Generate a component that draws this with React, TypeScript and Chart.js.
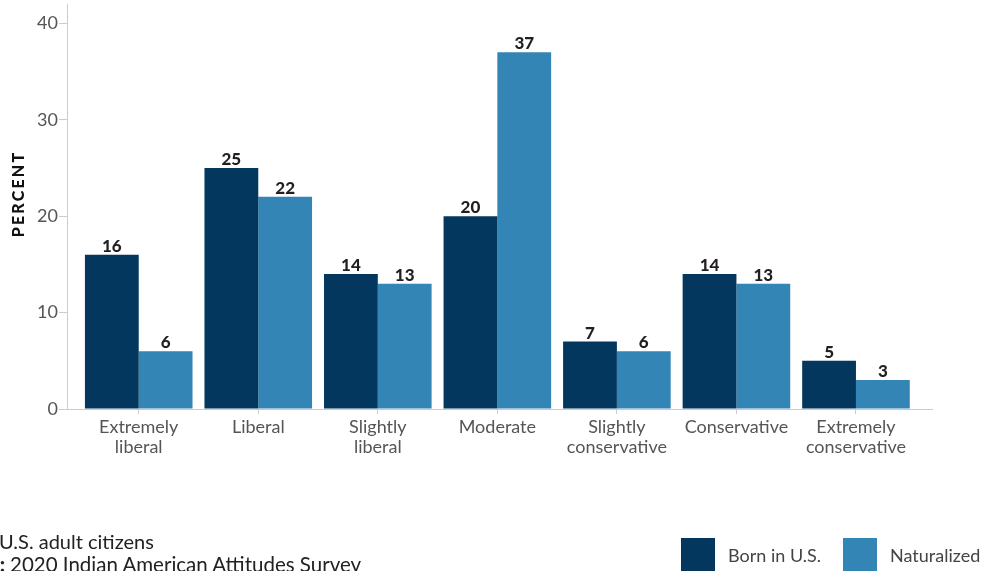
import React, { useEffect, useRef } from "react";
import { Chart, registerables } from "chart.js";

Chart.register(...registerables);

const CATEGORIES: string[][] = [
  ["Extremely", "liberal"],
  ["Liberal"],
  ["Slightly", "liberal"],
  ["Moderate"],
  ["Slightly", "conservative"],
  ["Conservative"],
  ["Extremely", "conservative"],
];
const BORN_IN_US = [16, 25, 14, 20, 7, 14, 5];
const NATURALIZED = [6, 22, 13, 37, 6, 13, 3];
const Y_TICKS = [0, 10, 20, 30, 40];
const SERIES_NAMES = ["Born in U.S.", "Naturalized"];

const DARK = "#03375e";
const LIGHT = "#3285b4";
const AXIS = "#cccccc";
const FONT = "Lato, 'Open Sans', sans-serif";

const dataLabels = {
  id: "dataLabels",
  afterDatasetsDraw(chart: any) {
    const ctx = chart.ctx;
    ctx.save();
    ctx.font = `900 17px ${FONT}`;
    ctx.fillStyle = "#231f20";
    ctx.textAlign = "center";
    ctx.textBaseline = "alphabetic";
    chart.data.datasets.forEach((ds: any, di: number) => {
      const meta = chart.getDatasetMeta(di);
      meta.data.forEach((el: any, i: number) => {
        ctx.fillText(String(ds.data[i].y), el.x, el.y - 3);
      });
    });
    ctx.restore();
  },
};

const yTitle = {
  id: "yTitle",
  afterDraw(chart: any) {
    const ctx = chart.ctx;
    ctx.save();
    ctx.translate(19, 194);
    ctx.rotate(-Math.PI / 2);
    ctx.font = `900 16px ${FONT}`;
    (ctx as any).letterSpacing = "2.2px";
    ctx.fillStyle = "#111111";
    ctx.textAlign = "center";
    ctx.textBaseline = "middle";
    ctx.fillText("PERCENT", 0, 0);
    ctx.restore();
  },
};

export default function App() {
  const ref = useRef<HTMLCanvasElement | null>(null);

  useEffect(() => {
    if (!ref.current) return;
    const chart = new Chart(ref.current, {
      type: "bar",
      data: {
        datasets: [
          {
            label: SERIES_NAMES[0],
            data: BORN_IN_US.map((v, i) => ({ x: i, y: v })),
            backgroundColor: DARK,
            borderWidth: 0,
          },
          {
            label: SERIES_NAMES[1],
            data: NATURALIZED.map((v, i) => ({ x: i, y: v })),
            backgroundColor: LIGHT,
            borderWidth: 0,
          },
        ],
      },
      options: {
        responsive: false,
        animation: false,
        devicePixelRatio: 1,
        layout: { padding: { top: 4, right: 51, left: 0, bottom: 0 } },
        datasets: { bar: { categoryPercentage: 0.9, barPercentage: 1 } },
        plugins: {
          legend: { display: false },
          tooltip: { enabled: false },
        },
        scales: {
          x: {
            type: "linear",
            offset: false,
            bounds: "data",
            min: -0.6,
            max: 6.636,
            afterBuildTicks: (scale: any) => {
              scale.ticks = CATEGORIES.map((_, i) => ({ value: i }));
            },
            afterFit: (scale: any) => {
              scale.height = 162;
              scale.paddingLeft = 0;
              scale.paddingRight = 0;
            },
            grid: {
              offset: false,
              drawOnChartArea: false,
              drawTicks: true,
              tickLength: 5,
              color: AXIS,
              tickColor: AXIS,
            },
            border: { display: true, color: AXIS, width: 1 },
            ticks: {
              autoSkip: false,
              maxRotation: 0,
              minRotation: 0,
              padding: 3,
              color: "#555555",
              font: { family: FONT, size: 18, lineHeight: 1.1 },
              callback: (v: any) => CATEGORIES[Number(v)] ?? "",
            },
          },
          y: {
            min: 0,
            max: 42,
            afterBuildTicks: (scale: any) => {
              scale.ticks = Y_TICKS.map((v) => ({ value: v }));
            },
            afterFit: (scale: any) => {
              scale.width = 67;
              scale.paddingTop = 0;
              scale.paddingBottom = 0;
            },
            grid: {
              drawOnChartArea: false,
              drawTicks: true,
              tickLength: 8,
              color: AXIS,
              tickColor: AXIS,
            },
            border: { display: true, color: AXIS, width: 1 },
            ticks: {
              padding: 1,
              color: "#555555",
              font: { family: FONT, size: 18 },
              callback: (v: any) => String(v),
            },
          },
        },
      } as any,
      plugins: [dataLabels, yTitle],
    });
    return () => chart.destroy();
  }, []);

  const legendItem = (color: string, label: string, left: number) => (
    <div style={{ position: "absolute", left, top: 538, display: "flex", alignItems: "flex-start" }}>
      <div style={{ width: 34, height: 34, background: color }} />
      <div
        style={{
          marginLeft: 13,
          fontFamily: FONT,
          fontSize: 18,
          color: "#444444",
          lineHeight: "34px",
          whiteSpace: "nowrap",
        }}
      >
        {label}
      </div>
    </div>
  );

  return (
    <div
      style={{
        position: "fixed",
        left: 0,
        top: 0,
        width: 983,
        height: 571,
        overflow: "hidden",
        background: "#ffffff",
      }}
    >
      <canvas ref={ref} width={983} height={571} style={{ position: "absolute", left: 0, top: 0 }} />
      <div
        style={{
          position: "absolute",
          left: -1,
          top: 529,
          fontFamily: FONT,
          fontSize: 20,
          color: "#222222",
          whiteSpace: "nowrap",
          lineHeight: "24px",
        }}
      >
        U.S. adult citizens
      </div>
      <div
        style={{
          position: "absolute",
          left: 0,
          top: 552,
          width: 983,
          fontFamily: FONT,
          fontSize: 20.5,
          color: "#222222",
          whiteSpace: "nowrap",
          lineHeight: "24px",
        }}
      >
        <span style={{ position: "absolute", right: 983 - 5, fontWeight: 900 }}>SOURCE:</span>
        <span style={{ position: "absolute", left: 10 }}>2020 Indian American Attitudes Survey</span>
      </div>
      {legendItem(DARK, SERIES_NAMES[0], 681)}
      {legendItem(LIGHT, SERIES_NAMES[1], 843)}
    </div>
  );
}
